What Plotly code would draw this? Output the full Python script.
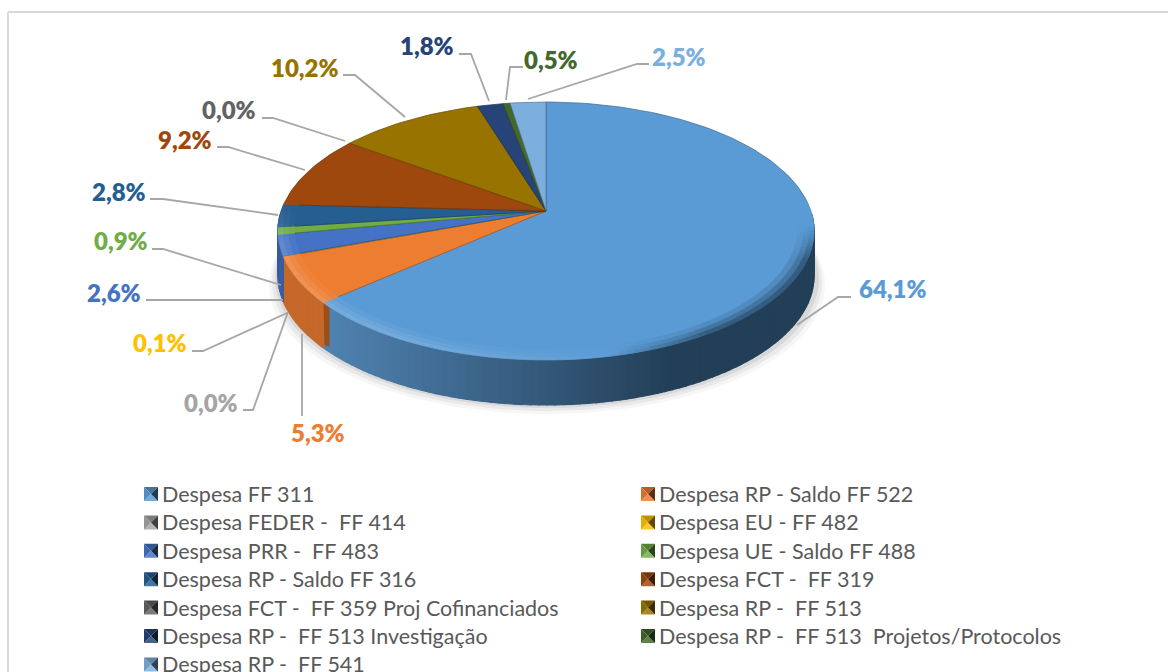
import math
import plotly.graph_objects as go

# ---------- data ----------
categories = ["Despesa FF 311", "Despesa RP - Saldo FF 522", "Despesa FEDER -  FF 414", "Despesa EU - FF 482",
              "Despesa PRR -  FF 483", "Despesa UE - Saldo FF 488", "Despesa RP - Saldo FF 316", "Despesa FCT -  FF 319",
              "Despesa FCT -  FF 359 Proj Cofinanciados", "Despesa RP -  FF 513", "Despesa RP -  FF 513 Investigação",
              "Despesa RP -  FF 513  Projetos/Protocolos", "Despesa RP -  FF 541"]
values = [64.1, 5.3, 0.0, 0.1, 2.6, 0.9, 2.8, 9.2, 0.0, 10.2, 1.8, 0.5, 2.5]
labels = ["64,1%", "5,3%", "0,0%", "0,1%", "2,6%", "0,9%", "2,8%", "9,2%", "0,0%", "10,2%", "1,8%", "0,5%", "2,5%"]

# ---------- styles and layout ----------
colors = ["#5B9BD5", "#ED7D31", "#A5A5A5", "#FFC000", "#4472C4", "#70AD47", "#255E91",
          "#9E480E", "#636363", "#997300", "#264478", "#43682B", "#7CAFDD"]
FONT = "Lato, Carlito, Calibri, sans-serif"
AX, AY = 546, 211          # apex of the pie on screen
RX, RY, K = 264.8, 125.9, 0.155   # perspective ellipse
DEPTH = 45
BEVEL_LAP = 0.03           # the orange slice's bevel laps over the blue one (radians)
label_pos = [(893, 288), (318, 432), (211, 402), (160, 342), (114, 292), (121, 240), (119, 191),
             (185, 139), (229, 109), (305, 67), (427, 45), (551, 59), (679, 56)]
leaders = [[(797, 325), (838, 297), (851, 297)],
           [(302, 334), (302, 416)],
           [(288, 312), (253, 410), (243, 410)],
           [(287, 313), (203, 351), (192, 351)],
           [(283, 300), (146, 300)],
           [(281, 285), (163, 249), (152, 249)],
           [(278, 215), (163, 199), (150, 199)],
           [(305, 170), (228, 147), (217, 147)],
           [(345, 141), (273, 118), (262, 118)],
           [(405, 117), (355, 75), (343, 75)],
           [(489, 101), (471, 54), (459, 54)],
           [(506, 100), (510, 67), (523, 67)],
           [(528, 99), (637, 64), (649, 64)]]
leg_x = [144, 641]
leg_y0, leg_dy = 494.0, 28.4


def rgb(h):
    h = h.lstrip("#")
    return tuple(int(h[i:i + 2], 16) for i in (0, 2, 4))


def mix(a, b, t):
    a, b = rgb(a), rgb(b)
    t = max(0, min(1, t))
    return "#%02x%02x%02x" % tuple(round(a[i] + (b[i] - a[i]) * t) for i in range(3))


def pt(theta, r=1.0, dy=0.0):
    u, v = r * math.sin(theta), r * math.cos(theta)
    w = 1 + K * v
    return AX + RX * u / w, AY - RY * v / w + dy


def arc(a, b, r=1.0, dy=0.0, n=None):
    n = n or max(2, int(abs(b - a) / math.radians(1.5)) + 1)
    return [pt(a + (b - a) * i / n, r, dy) for i in range(n + 1)]


fig = go.Figure()


def poly(points, fill, line=None, lw=0.0, opacity=1.0):
    fig.add_trace(go.Scatter(x=[p[0] for p in points] + [points[0][0]],
                             y=[p[1] for p in points] + [points[0][1]],
                             mode="lines", fill="toself", fillcolor=fill, opacity=opacity,
                             line=dict(color=line or fill, width=lw), hoverinfo="skip", showlegend=False))


# wedge angles from the values
total = sum(values)
starts, ends = [], []
acc = 0.0
for v in values:
    starts.append(2 * math.pi * acc / total)
    acc += v
    ends.append(2 * math.pi * acc / total)
draw_starts = list(starts)
draw_starts[1] -= BEVEL_LAP

# soft shadow
full = arc(0, 2 * math.pi, n=180)
for grow, sh, op in [(10, 9, 0.035), (7, 6, 0.05), (4, 3, 0.07)]:
    poly([(x + (x - AX) * grow / 268 + 1, y + DEPTH + sh) for x, y in full], "#000000", opacity=op)


def side_color(i, x):
    if i == 0:
        t = (x - 330) / 340
        return mix("#4f82b0", "#233f58", t)
    if i in (3, 5, 6):
        return mix(colors[4], "#000000", 0.2)
    return mix(colors[i], "#000000", 0.17)


# extruded side, painted as narrow strips
for i, (a, b) in enumerate(zip(draw_starts, ends)):
    if b <= a:
        continue
    ring = arc(a, b)
    for p, q in zip(ring[:-1], ring[1:]):
        if p[1] < AY + 5 and q[1] < AY + 5:
            continue
        col = side_color(i, (p[0] + q[0]) / 2)
        poly([p, q, (q[0], q[1] + DEPTH), (p[0], p[1] + DEPTH)], col, col, 1.2)

# cut face between the front slices
p = pt(draw_starts[1])
poly([(p[0], p[1] - 7), (p[0] + 6, p[1] - 7), (p[0] + 6, p[1] + DEPTH - 1), (p[0] + 1, p[1] + DEPTH - 3)],
     "#9a4f17")

# top faces
for i, (a, b) in enumerate(zip(draw_starts, ends)):
    if b <= a:
        continue
    poly([pt(0, 0)] + arc(a, b), colors[i], mix(colors[i], "#000000", 0.35), 0.7)

# bevel along the rim: bright on the front-left, dark on the front-right
rings = [(1.0, 0.98, 1.0), (0.98, 0.96, 0.6), (0.96, 0.94, 0.25)]
for i, (a, b) in enumerate(zip(draw_starts, ends)):
    if b - a < 0.01:
        continue
    for r_out, r_in, gain in rings:
        outer, inner = arc(a, b, r_out), arc(a, b, r_in)
        for j in range(len(outer) - 1):
            xm, ym = (outer[j][0] + outer[j + 1][0]) / 2, (outer[j][1] + outer[j + 1][1]) / 2
            if ym < AY - 10:
                continue
            tl = max(0, min(1, (640 - xm) / 250)) * max(0, min(1, (ym - AY + 10) / 40))
            td = max(0, min(1, (xm - 610) / 100)) * max(0, min(1, (ym - AY - 15) / 35))
            col = mix(colors[i], "#ffffff", 0.16 * tl * gain)
            col = mix(col, "#2c5170", 0.85 * td * gain)
            poly([outer[j], outer[j + 1], inner[j + 1], inner[j]], col, col, 0.6)

# leader lines
for path in leaders:
    fig.add_trace(go.Scatter(x=[p[0] for p in path], y=[p[1] for p in path], mode="lines",
                             line=dict(color="#A6A6A6", width=1.8), hoverinfo="skip", showlegend=False))

# data labels
for txt, (x, y), c in zip(labels, label_pos, colors):
    fig.add_annotation(x=x, y=y, text=txt, showarrow=False, xanchor="center", yanchor="middle",
                       font=dict(family=FONT, size=24, color=c, weight=800))

# legend
shapes = [dict(type="line", xref="x", yref="y", x0=8, x1=1168, y0=12, y1=12, line=dict(color="#D9D9D9", width=2)),
          dict(type="line", xref="x", yref="y", x0=8, x1=8, y0=12, y1=672, line=dict(color="#D9D9D9", width=2))]
for i, (name, c) in enumerate(zip(categories, colors)):
    col, row = i % 2, i // 2
    x0, yc = leg_x[col], leg_y0 + row * leg_dy
    s = 14
    l, r, t, b = x0, x0 + s, yc - s / 2, yc + s / 2
    mx, my = (l + r) / 2, yc
    for tri, shade in [([(l, t), (r, t)], mix(c, "#000000", 0.25)),
                       ([(l, b), (r, b)], mix(c, "#ffffff", 0.15)),
                       ([(l, t), (l, b)], mix(c, "#000000", 0.1)),
                       ([(r, t), (r, b)], mix(c, "#000000", 0.62))]:
        d = "M%g,%g L%g,%g L%g,%g Z" % (tri[0][0], tri[0][1], tri[1][0], tri[1][1], mx, my)
        shapes.append(dict(type="path", path=d, xref="x", yref="y", fillcolor=shade, line=dict(width=0)))
    fig.add_annotation(x=x0 + 16, y=yc, text=name, showarrow=False, xanchor="left", yanchor="middle",
                       font=dict(family=FONT, size=21.5, color="#595959"))

fig.update_layout(width=1168, height=672, autosize=False, margin=dict(l=0, r=0, t=0, b=0),
                  paper_bgcolor="white", plot_bgcolor="white", showlegend=False, shapes=shapes,
                  xaxis=dict(range=[0, 1168], visible=False, fixedrange=True),
                  yaxis=dict(range=[672, 0], visible=False, fixedrange=True))
fig.write_html("out.html", config=dict(displayModeBar=False),
               post_script="document.body.style.margin='0';document.documentElement.style.overflow='hidden';")
